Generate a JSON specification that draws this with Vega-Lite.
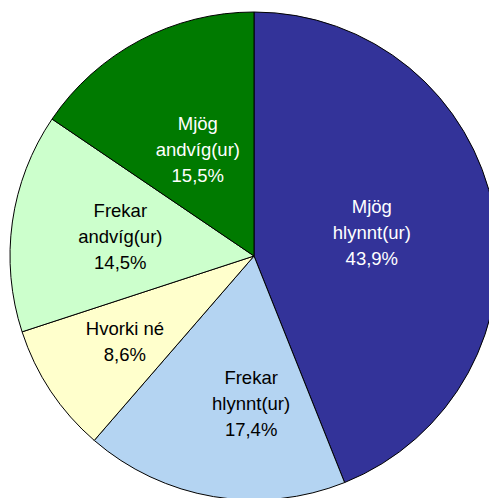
{
  "$schema": "https://vega.github.io/schema/vega-lite/v6.json",
  "width": 508,
  "height": 512,
  "autosize": "none",
  "padding": 0,
  "background": "white",
  "config": {"view": {"stroke": null}},
  "data": {
    "values": [
      {"cat": "Mjög hlynnt(ur)", "label": "Mjög\nhlynnt(ur)\n43,9%", "value": 43.9, "ord": 1},
      {"cat": "Frekar hlynnt(ur)", "label": "Frekar\nhlynnt(ur)\n17,4%", "value": 17.4, "ord": 2},
      {"cat": "Hvorki né", "label": "Hvorki né\n8,6%", "value": 8.6, "ord": 3},
      {"cat": "Frekar andvíg(ur)", "label": "Frekar\nandvíg(ur)\n14,5%", "value": 14.5, "ord": 4},
      {"cat": "Mjög andvíg(ur)", "label": "Mjög\nandvíg(ur)\n15,5%", "value": 15.5, "ord": 5}
    ]
  },
  "resolve": {"scale": {"theta": "independent"}},
  "layer": [
    {
      "mark": {"type": "arc", "radius": 244, "stroke": "black", "strokeWidth": 1},
      "encoding": {
        "theta": {"field": "value", "type": "quantitative", "stack": true},
        "order": {"field": "ord", "type": "quantitative"},
        "color": {
          "field": "cat",
          "type": "nominal",
          "legend": null,
          "scale": {
            "domain": ["Mjög hlynnt(ur)", "Frekar hlynnt(ur)", "Hvorki né", "Frekar andvíg(ur)", "Mjög andvíg(ur)"],
            "range": ["#333399", "#B4D4F2", "#FFFFCC", "#CCFFCC", "#007A00"]
          }
        }
      }
    },
    {
      "transform": [
        {"stack": "value", "groupby": [], "sort": [{"field": "ord", "order": "ascending"}], "as": ["v0", "v1"]},
        {"calculate": "(datum.v0 + datum.v1) / 2", "as": "mid"}
      ],
      "layer": [
        {
          "transform": [{"filter": "datum.ord == 1 || datum.ord == 5"}],
          "mark": {"type": "text", "radius": 120, "dy": -26, "lineBreak": "\n", "lineHeight": 26, "fontSize": 18.5, "font": "Liberation Sans", "fill": "white", "align": "center", "baseline": "middle"},
          "encoding": {"text": {"field": "label"}}
        },
        {
          "transform": [{"filter": "datum.ord == 4"}],
          "mark": {"type": "text", "radius": 135, "dy": -26, "lineBreak": "\n", "lineHeight": 26, "fontSize": 18.5, "font": "Liberation Sans", "fill": "black", "align": "center", "baseline": "middle"},
          "encoding": {"text": {"field": "label"}}
        },
        {
          "transform": [{"filter": "datum.ord == 2"}],
          "mark": {"type": "text", "radius": 150, "dx": 22, "dy": -26, "lineBreak": "\n", "lineHeight": 26, "fontSize": 18.5, "font": "Liberation Sans", "fill": "black", "align": "center", "baseline": "middle"},
          "encoding": {"text": {"field": "label"}}
        },
        {
          "transform": [{"filter": "datum.ord == 3"}],
          "mark": {"type": "text", "radius": 155, "dy": -13, "lineBreak": "\n", "lineHeight": 26, "fontSize": 18.5, "font": "Liberation Sans", "fill": "black", "align": "center", "baseline": "middle"},
          "encoding": {"text": {"field": "label"}}
        }
      ],
      "encoding": {
        "theta": {"field": "mid", "type": "quantitative", "stack": null, "scale": {"domain": [0, 99.9]}}
      }
    }
  ]
}
